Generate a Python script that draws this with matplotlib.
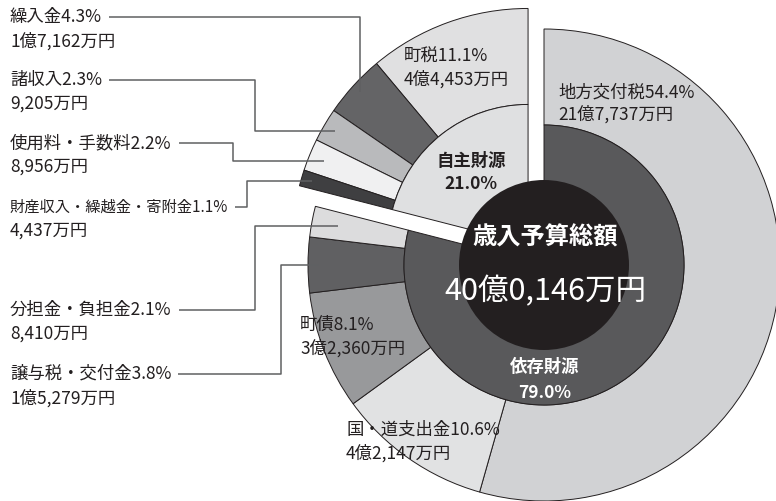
import numpy as np
import matplotlib.pyplot as plt
from matplotlib.patches import Circle

plt.rcParams['font.family'] = ['Noto Sans CJK JP', 'DejaVu Sans']

# 依存財源 (clockwise from the top)
dep_labels = ['地方交付税', '国・道支出金', '町債', '譲与税・交付金', '分担金・負担金']
dep_pct = [54.4, 10.6, 8.1, 3.8, 2.1]
dep_amount = ['21億7,737万円', '4億2,147万円', '3億2,360万円', '1億5,279万円', '8,410万円']
dep_colors = ['#d1d2d4', '#e1e2e3', '#98999b', '#606062', '#dcdcdd']

# 自主財源 (counter-clockwise from the top)
own_labels = ['町税', '繰入金', '諸収入', '使用料・手数料', '財産収入・繰越金・寄附金']
own_pct = [11.1, 4.3, 2.3, 2.2, 1.1]
own_amount = ['4億4,453万円', '1億7,162万円', '9,205万円', '8,956万円', '4,437万円']
own_colors = ['#e0e0e1', '#646466', '#b9babc', '#f0f0f1', '#3f3f41']

group_labels = ['自主財源', '依存財源']
group_pct = [21.0, 79.0]
group_colors = ['#dfe0e1', '#59595b']
total_label = '歳入予算総額'
total_amount = '40億0,146万円'

W, H = 776, 501
TXT = '#231f20'
LINE = '#5f6062'
FS = 12.5


def py(y):
    # picture rows -> data y
    return H - y


fig = plt.figure(figsize=(W / 100, H / 100), dpi=100)
ax = fig.add_axes([0, 0, 1, 1])
ax.set_xlim(0, W)
ax.set_ylim(0, H)

c0 = np.array([544.0, py(265)])
R, R_in, R_core = 236, 140, 85
shift = 26
own_total = sum(own_pct)
bis = np.deg2rad(90 + 360 * own_total / 100 / 2)
c1 = c0 + shift * np.array([np.cos(bis), np.sin(bis)])

edge = dict(edgecolor=TXT, linewidth=0.7)

# dependent revenue: outer ring + inner ring
w, _ = ax.pie(dep_pct + [own_total], colors=dep_colors + ['none'], radius=R,
              center=c0, startangle=90, counterclock=False,
              wedgeprops=dict(width=R - R_in, **edge))
w[-1].set_visible(False)
w, _ = ax.pie([group_pct[1], group_pct[0]], colors=[group_colors[1], 'none'],
              radius=R_in, center=c0, startangle=90, counterclock=False,
              wedgeprops=edge)
w[-1].set_visible(False)

# own revenue, pulled out along its bisector
w, _ = ax.pie(own_pct + [100 - own_total], colors=own_colors + ['none'], radius=R,
              center=c1, startangle=90, counterclock=True,
              wedgeprops=dict(width=R - R_in, **edge))
w[-1].set_visible(False)
w, _ = ax.pie([group_pct[0], group_pct[1]], colors=[group_colors[0], 'none'],
              radius=R_in, center=c1, startangle=90, counterclock=True,
              wedgeprops=edge)
w[-1].set_visible(False)

ax.add_patch(Circle(c0, R_core, facecolor=TXT, edgecolor='none', zorder=5))

ax.set_xlim(0, W)
ax.set_ylim(0, H)
ax.set_aspect('equal')
ax.axis('off')


def mid_point(center, pct, i, clockwise, r):
    cum = np.cumsum([0] + pct)
    a = (cum[i] + cum[i + 1]) / 2 / 100 * 360
    ang = np.deg2rad(90 - a if clockwise else 90 + a)
    return center + r * np.array([np.cos(ang), np.sin(ang)])


def two_lines(x, y1, y2, s1, s2, ha='left', color=TXT, size=FS, size2=None, weight='normal'):
    t1 = ax.text(x, py(y1), s1, ha=ha, va='center', color=color, fontsize=size,
                 fontweight=weight, zorder=6)
    ax.text(x, py(y2), s2, ha=ha, va='center', color=color, fontsize=size2 or size,
            fontweight=weight, zorder=6)
    return t1


# labels inside the wedges
two_lines(558, 92, 114, f'{dep_labels[0]}{dep_pct[0]:.1f}%', dep_amount[0])
two_lines(346, 430, 453, f'{dep_labels[1]}{dep_pct[1]:.1f}%', dep_amount[1])
two_lines(300, 325, 348, f'{dep_labels[2]}{dep_pct[2]:.1f}%', dep_amount[2])
two_lines(404, 57, 79, f'{own_labels[0]}{own_pct[0]:.1f}%', own_amount[0])

# leader labels on the left: (series, index, radius, elbow x, label row, font size)
leaders = [
    ('own', 1, 227, None, 17, FS),
    ('own', 2, 224, 255, 80, FS),
    ('own', 3, 221, 233, 143, FS),
    ('own', 4, 225, 233, 207, 11),
    ('dep', 4, 210, 255, 310, FS),
    ('dep', 3, 225, 281, 374, FS),
]
renderer = fig.canvas.get_renderer()
inv = ax.transData.inverted()
for kind, i, r, ex, row, size in leaders:
    if kind == 'own':
        p = mid_point(c1, own_pct, i, False, r)
        s1, s2 = f'{own_labels[i]}{own_pct[i]:.1f}%', own_amount[i]
    else:
        p = mid_point(c0, dep_pct, i, True, r)
        s1, s2 = f'{dep_labels[i]}{dep_pct[i]:.1f}%', dep_amount[i]
    t = two_lines(10, row, row + 24, s1, s2, size=size, size2=FS)
    bb = t.get_window_extent(renderer)
    sx = inv.transform((bb.x1, 0))[0] + 7
    if ex is None:
        ex = p[0]
    ex = max(ex, sx + 12)
    xs = [p[0], ex, ex, sx]
    ys = [p[1], p[1], py(row), py(row)]
    ax.plot(xs, ys, color=LINE, linewidth=1.1, solid_capstyle='butt', zorder=6)

# group and total labels
two_lines(471, 161, 184, group_labels[0], f'{group_pct[0]:.1f}%', ha='center', size=12.5, weight='bold')
two_lines(545, 367, 393, group_labels[1], f'{group_pct[1]:.1f}%', ha='center', color='white',
          size=12.5, weight='bold')
ax.text(545, py(238), total_label, ha='center', va='center', color='white', fontsize=17.5,
        fontweight='bold', zorder=6)
ax.text(545, py(292), total_amount, ha='center', va='center', color='white', fontsize=22,
        zorder=6)

fig.savefig('out.png', dpi=100, facecolor='white')
